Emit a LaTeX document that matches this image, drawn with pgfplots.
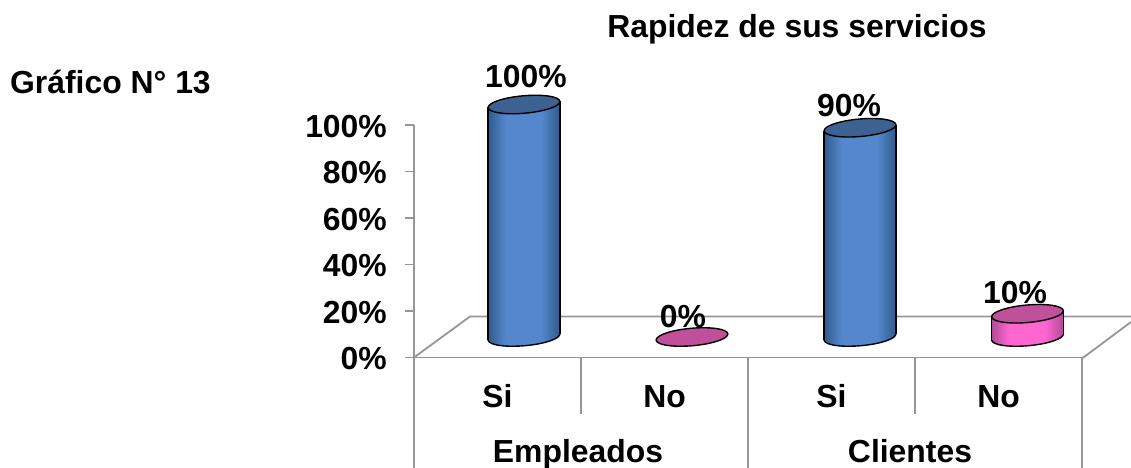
\documentclass[border=0pt]{standalone}
\usepackage{pgfplots}
\pgfplotsset{compat=1.18}
\usepackage{fontspec}
\setmainfont{Liberation Sans}
\usetikzlibrary{shapes.geometric}
\definecolor{ax}{HTML}{969696}
\definecolor{bEdge}{HTML}{2F5A8C}
\definecolor{bMid}{HTML}{5487CB}
\definecolor{bTop}{HTML}{3D6291}
\definecolor{pEdge}{HTML}{B04A96}
\definecolor{pMid}{HTML}{FF66D0}
\definecolor{pTop}{HTML}{C0509A}
\pgfdeclarehorizontalshading{cylB}{100bp}{color(0bp)=(bEdge); color(25bp)=(bEdge); color(37bp)=(bMid); color(62bp)=(bMid); color(75bp)=(bEdge); color(100bp)=(bEdge)}
\pgfdeclarehorizontalshading{cylP}{100bp}{color(0bp)=(pEdge); color(25bp)=(pEdge); color(37bp)=(pMid); color(62bp)=(pMid); color(75bp)=(pEdge); color(100bp)=(pEdge)}
\newcommand{\lab}{\bfseries\fontsize{32}{36}\selectfont}
% bottom ellipse: #1 category, #2 shading, #3 x offset
\newcommand{\cylbase}[3]{%
  \addplot[draw=none,mark=none,forget plot,nodes near coords={},
    every node near coord/.style={anchor=center,xshift=#3bp,yshift=20.5bp,rotate=5,
      ellipse,inner sep=0pt,outer sep=0pt,
      minimum width=72bp,minimum height=17.5bp,draw=black,line width=1.4bp,
      shading=#2}]
    coordinates {(#1,0)};
}
% body and top: #1 category, #2 value, #3 shading, #4 top colour, #5 y-compensation, #6 x offset, #7 left edge, #8 right edge
\newcommand{\cyl}[8]{%
  \addplot[ybar,bar width=72bp,bar shift=0pt,draw=none,forget plot,
    shading=#3,xshift=#6bp,yshift=#5bp,yslant=0.083] coordinates {(#1,#2)};
  \addplot[ycomb,black,line width=1.4bp,mark=none,forget plot,xshift=#7bp,yshift=17.5bp] coordinates {(#1,#2)};
  \addplot[ycomb,black,line width=1.4bp,mark=none,forget plot,xshift=#8bp,yshift=23.5bp] coordinates {(#1,#2)};
  \addplot[draw=none,mark=none,forget plot,nodes near coords={},
    every node near coord/.style={anchor=center,xshift=#6bp,yshift=20.5bp,rotate=5,
      ellipse,inner sep=0pt,outer sep=0pt,
      minimum width=72bp,minimum height=17.5bp,draw=black,line width=1.4bp,
      fill=#4}]
    coordinates {(#1,#2)};
}
\begin{document}
\begin{tikzpicture}
\useasboundingbox (-414bp,-110.5bp) rectangle (717bp,357.5bp);
\begin{scope}[x=1bp,y=-1bp,shift={(-414bp,357.5bp)}]
  % floor and category separators
  \draw[ax,line width=1.8bp] (414,357.5) -- (470,316.5) -- (1131,316.5);
  \draw[ax,line width=1.8bp] (1082,358.5) -- (1131,322);
  \draw[ax,line width=1.8bp] (581,358) -- (581,414) (915,358) -- (915,414);
  \draw[ax,line width=1.8bp] (414,358) -- (414,468) (748,358) -- (748,468) (1082,358) -- (1082,468);
  % texts
  \node[anchor=base,inner sep=0pt] at (797,38) {\lab Rapidez de sus servicios};
  \node[anchor=base west,inner sep=0pt] at (10,94) {\lab Gráfico N° 13};
  \node[anchor=base,inner sep=0pt] at (578,463) {\lab Empleados};
  \node[anchor=base,inner sep=0pt] at (910,463) {\lab Clientes};
  \node[anchor=base,inner sep=0pt] at (526,88) {\lab 100\%};
  \node[anchor=base,inner sep=0pt] at (683,328) {\lab 0\%};
  \node[anchor=base,inner sep=0pt] at (849,117) {\lab 90\%};
  \node[anchor=base,inner sep=0pt] at (1015,304) {\lab 10\%};
\end{scope}
\begin{axis}[
  scale only axis,width=668bp,height=232.5bp,at={(0,0)},anchor=south west,
  clip=false,hide axis,
  xmin=-0.5,xmax=3.5,ymin=0,ymax=100,
]
\cylbase{0}{cylB}{26.5}
\cylbase{2}{cylB}{28.5}
\cylbase{3}{cylP}{29}
\end{axis}
\begin{axis}[
  scale only axis,width=668bp,height=232.5bp,at={(0,0)},anchor=south west,
  clip=false,
  xmin=-0.5,xmax=3.5,ymin=0,ymax=100,
  axis x line*=bottom,axis y line*=left,
  axis line style={ax,line width=1.8bp},
  xtick={0,1,2,3},xticklabels={Si,No,Si,No},
  ytick={0,20,40,60,80,100},yticklabels={0\%,20\%,40\%,60\%,80\%,100\%},
  tick align=outside,
  major tick length=9bp,
  tick style={ax,line width=1.8bp},
  xtick style={draw=none},
  xticklabel style={font=\lab,anchor=base,inner sep=0pt,yshift=-40.5bp},
  yticklabel style={font=\lab,anchor=east,inner sep=0pt,xshift=-18bp,yshift=-1.5bp},
]
\cyl{0}{100}{cylB}{bTop}{13.57}{26.5}{-9.4}{62.4}
\cyl{1}{0}{cylP}{pTop}{-0.29}{27.5}{-8.4}{63.4}
\cyl{2}{90}{cylB}{bTop}{-14.15}{28.5}{-7.4}{64.4}
\cyl{3}{10}{cylP}{pTop}{-28.01}{29}{-6.9}{64.9}
\end{axis}
\end{tikzpicture}
\end{document}
